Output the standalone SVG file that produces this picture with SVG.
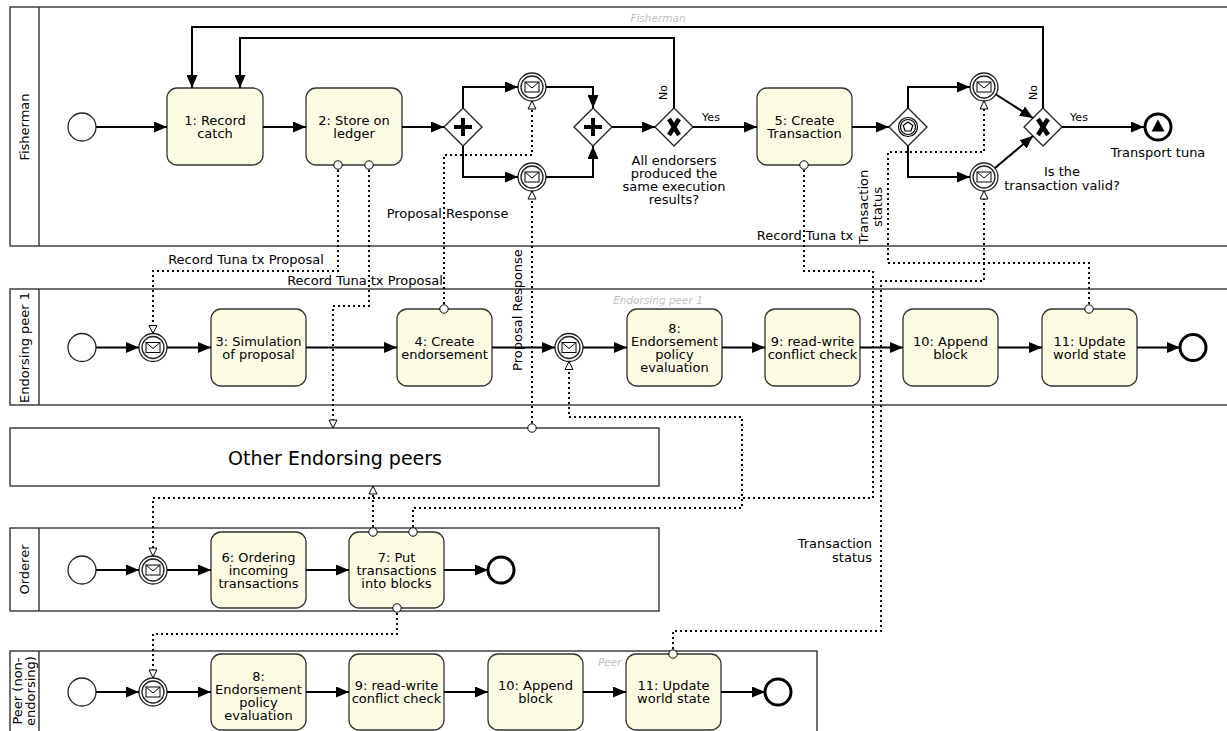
<svg xmlns="http://www.w3.org/2000/svg" width="1227" height="731" viewBox="0 0 1227 731">
  <defs>
    <style>
      .pool{fill:#fff;stroke:#333;stroke-width:1.4}
      .hdr{fill:none;stroke:#333;stroke-width:1.4}
      text{font-family:"DejaVu Sans",Verdana,sans-serif;font-size:13px;fill:#000}
      .c{text-anchor:middle}
      .e{text-anchor:end}
      .small{font-size:11px}
      .lane{font-size:10.5px;font-style:italic;fill:#c0c0c0;text-anchor:middle}
      .task{fill:#fcfce4;stroke:#333;stroke-width:1.3}
      .ev{fill:#fff;stroke:#222;stroke-width:1.3}
      .end{fill:#fff;stroke:#000;stroke-width:3}
      .flow{fill:none;stroke:#000;stroke-width:2;marker-end:url(#arr)}
      .msg{fill:none;stroke:#000;stroke-width:2;stroke-dasharray:2 3;marker-start:url(#dot);marker-end:url(#tri)}
    </style>
    <marker id="arr" markerUnits="userSpaceOnUse" markerWidth="14" markerHeight="11" refX="13" refY="5.5" orient="auto">
      <path d="M0,0 L13,5.5 L0,11 Z" fill="#000"/>
    </marker>
    <marker id="tri" markerUnits="userSpaceOnUse" markerWidth="12" markerHeight="12" refX="9" refY="5" orient="auto" overflow="visible">
      <path d="M1,1 L9,5 L1,9 Z" fill="#fff" stroke="#000" stroke-width="1"/>
    </marker>
    <marker id="dot" markerUnits="userSpaceOnUse" markerWidth="12" markerHeight="12" refX="6" refY="6" orient="auto" overflow="visible">
      <circle cx="6" cy="6" r="4.2" fill="#fff" stroke="#000" stroke-width="1"/>
    </marker>
    <!-- intermediate message catch event -->
    <g id="mev">
      <circle r="14" fill="#fff" stroke="#222" stroke-width="1.3"/>
      <circle r="11" fill="none" stroke="#222" stroke-width="1.3"/>
      <rect x="-7" y="-5" width="14" height="10" fill="#fff" stroke="#000" stroke-width="1"/>
      <path d="M-7,-5 L0,1 L7,-5" fill="none" stroke="#000" stroke-width="1"/>
    </g>
    <path id="dia" d="M-19,0 L0,-19 L19,0 L0,19 Z" fill="#fff" stroke="#222" stroke-width="1.3"/>
    <!-- parallel gateway -->
    <g id="gwP">
      <use href="#dia"/>
      <path d="M0,-9 V9 M-9,0 H9" stroke="#000" stroke-width="4"/>
    </g>
    <!-- exclusive gateway -->
    <g id="gwX">
      <use href="#dia"/>
      <path d="M-5,-8 L5,8 M5,-8 L-5,8" stroke="#000" stroke-width="4.5"/>
    </g>
    <!-- event-based gateway -->
    <g id="gwE">
      <use href="#dia"/>
      <circle r="9.5" fill="none" stroke="#000" stroke-width="1.2"/>
      <circle r="7.5" fill="none" stroke="#000" stroke-width="1.2"/>
      <path d="M0,-5 L4.8,-1.5 L2.9,4 L-2.9,4 L-4.8,-1.5 Z" fill="none" stroke="#000" stroke-width="1.2"/>
    </g>
  </defs>

  <!-- pools -->
  <g id="pool-fisherman">
    <rect class="pool" x="10" y="7" width="1300" height="239"/>
    <line class="hdr" x1="39" y1="7" x2="39" y2="246"/>
    <text x="29" y="127" class="c" transform="rotate(-90 29 127)">Fisherman</text>
    <text x="658" y="21.5" class="lane">Fisherman</text>
  </g>
  <g id="pool-endorsing-peer-1">
    <rect class="pool" x="10" y="289" width="1300" height="116"/>
    <line class="hdr" x1="39" y1="289" x2="39" y2="405"/>
    <text x="29" y="347.5" class="c" transform="rotate(-90 29 347.5)">Endorsing peer 1</text>
    <text x="658" y="303.5" class="lane">Endorsing peer 1</text>
  </g>
  <g id="pool-other-endorsing-peers">
    <rect class="pool" x="10" y="428" width="649" height="58"/>
    <text x="335" y="465" class="c" style="font-size:19px">Other Endorsing peers</text>
  </g>
  <g id="pool-orderer">
    <rect class="pool" x="10" y="528" width="649" height="83"/>
    <line class="hdr" x1="39" y1="528" x2="39" y2="611"/>
    <text x="29" y="569.5" class="c" transform="rotate(-90 29 569.5)">Orderer</text>
  </g>
  <g id="pool-peer">
    <rect class="pool" x="10" y="651" width="807" height="100"/>
    <line class="hdr" x1="39" y1="651" x2="39" y2="751"/>
    <text x="22" y="691" class="c" transform="rotate(-90 22 691)">Peer (non-</text>
    <text x="35" y="691" class="c" transform="rotate(-90 35 691)">endorsing)</text>
    <text x="598" y="665.5" class="lane" style="text-anchor:start">Peer</text>
  </g>

  <!-- Fisherman nodes -->
  <g id="f-start"><circle class="ev" cx="82" cy="127" r="14"/></g>
  <g id="f-task1"><rect class="task" x="167" y="88" width="96" height="77" rx="10"/>
    <text x="215" y="124.5" class="c">1: Record</text><text x="215" y="137.5" class="c">catch</text></g>
  <g id="f-task2"><rect class="task" x="306" y="88" width="96" height="77" rx="10"/>
    <text x="354" y="124.5" class="c">2: Store on</text><text x="354" y="137.5" class="c">ledger</text></g>
  <g id="f-fork"><use href="#gwP" x="463" y="127"/></g>
  <g id="f-msg-a"><use href="#mev" x="532" y="87"/></g>
  <g id="f-msg-b"><use href="#mev" x="532" y="177"/></g>
  <g id="f-join"><use href="#gwP" x="593" y="127"/></g>
  <g id="f-check-results"><use href="#gwX" x="674" y="127"/>
    <text x="674" y="164.5" class="c">All endorsers</text>
    <text x="674" y="177.5" class="c">produced the</text>
    <text x="674" y="191" class="c">same execution</text>
    <text x="674" y="204" class="c">results?</text></g>
  <g id="f-task5"><rect class="task" x="757" y="88" width="95" height="77" rx="10"/>
    <text x="804.5" y="124.5" class="c">5: Create</text><text x="804.5" y="137.5" class="c">Transaction</text></g>
  <g id="f-event-gw"><use href="#gwE" x="908" y="127"/></g>
  <g id="f-msg-c"><use href="#mev" x="984" y="87"/></g>
  <g id="f-msg-d"><use href="#mev" x="984" y="177"/></g>
  <g id="f-check-valid"><use href="#gwX" x="1043" y="127"/>
    <text x="1062" y="176" class="c">Is the</text>
    <text x="1062" y="189.5" class="c">transaction valid?</text></g>
  <g id="f-end"><circle class="end" cx="1158" cy="127" r="13"/>
    <path d="M1158,119.5 L1164.5,131.5 L1151.5,131.5 Z" fill="#000"/>
    <text x="1158" y="156.5" class="c">Transport tuna</text></g>

  <!-- Endorsing peer 1 nodes -->
  <g id="e-start"><circle class="ev" cx="82" cy="347.5" r="14"/></g>
  <g id="e-msg-in"><use href="#mev" x="153" y="347.5"/></g>
  <g id="e-task3"><rect class="task" x="211" y="309" width="95" height="77" rx="10"/>
    <text x="258.5" y="345.5" class="c">3: Simulation</text><text x="258.5" y="358.5" class="c">of proposal</text></g>
  <g id="e-task4"><rect class="task" x="397" y="309" width="95" height="77" rx="10"/>
    <text x="444.5" y="345.5" class="c">4: Create</text><text x="444.5" y="358.5" class="c">endorsement</text></g>
  <g id="e-msg-block"><use href="#mev" x="569" y="347.5"/></g>
  <g id="e-task8"><rect class="task" x="627" y="309" width="95" height="77" rx="10"/>
    <text x="674.5" y="332.5" class="c">8:</text><text x="674.5" y="345.5" class="c">Endorsement</text>
    <text x="674.5" y="358.5" class="c">policy</text><text x="674.5" y="371.5" class="c">evaluation</text></g>
  <g id="e-task9"><rect class="task" x="765" y="309" width="95" height="77" rx="10"/>
    <text x="812.5" y="345.5" class="c">9: read-write</text><text x="812.5" y="358.5" class="c">conflict check</text></g>
  <g id="e-task10"><rect class="task" x="903" y="309" width="95" height="77" rx="10"/>
    <text x="950.5" y="345.5" class="c">10: Append</text><text x="950.5" y="358.5" class="c">block</text></g>
  <g id="e-task11"><rect class="task" x="1042" y="309" width="95" height="77" rx="10"/>
    <text x="1089.5" y="345.5" class="c">11: Update</text><text x="1089.5" y="358.5" class="c">world state</text></g>
  <g id="e-end"><circle class="end" cx="1193" cy="347.5" r="13"/></g>

  <!-- Orderer nodes -->
  <g id="o-start"><circle class="ev" cx="82" cy="570" r="14"/></g>
  <g id="o-msg-in"><use href="#mev" x="153" y="570"/></g>
  <g id="o-task6"><rect class="task" x="211" y="532" width="95" height="76" rx="10"/>
    <text x="258.5" y="561.5" class="c">6: Ordering</text><text x="258.5" y="574.5" class="c">incoming</text>
    <text x="258.5" y="587.5" class="c">transactions</text></g>
  <g id="o-task7"><rect class="task" x="349" y="532" width="95" height="76" rx="10"/>
    <text x="396.5" y="561.5" class="c">7: Put</text><text x="396.5" y="574.5" class="c">transactions</text>
    <text x="396.5" y="587.5" class="c">into blocks</text></g>
  <g id="o-end"><circle class="end" cx="501" cy="570" r="13"/></g>

  <!-- Peer (non-endorsing) nodes -->
  <g id="p-start"><circle class="ev" cx="82" cy="692" r="14"/></g>
  <g id="p-msg-in"><use href="#mev" x="153" y="692"/></g>
  <g id="p-task8"><rect class="task" x="211" y="654" width="95" height="76" rx="10"/>
    <text x="258.5" y="681" class="c">8:</text><text x="258.5" y="694" class="c">Endorsement</text>
    <text x="258.5" y="707" class="c">policy</text><text x="258.5" y="720" class="c">evaluation</text></g>
  <g id="p-task9"><rect class="task" x="349" y="654" width="95" height="76" rx="10"/>
    <text x="396.5" y="690" class="c">9: read-write</text><text x="396.5" y="703" class="c">conflict check</text></g>
  <g id="p-task10"><rect class="task" x="488" y="654" width="95" height="76" rx="10"/>
    <text x="535.5" y="690" class="c">10: Append</text><text x="535.5" y="703" class="c">block</text></g>
  <g id="p-task11"><rect class="task" x="626" y="654" width="95" height="76" rx="10"/>
    <text x="673.5" y="690" class="c">11: Update</text><text x="673.5" y="703" class="c">world state</text></g>
  <g id="p-end"><circle class="end" cx="778" cy="692" r="13"/></g>

  <!-- connectors -->
  <g id="connectors">
    <!-- sequence flows: Fisherman -->
    <path class="flow" d="M96,127 H167"/>
    <path class="flow" d="M263,127 H306"/>
    <path class="flow" d="M402,127 H444"/>
    <path class="flow" d="M463,108 V87 H518"/>
    <path class="flow" d="M463,146 V177 H518"/>
    <path class="flow" d="M546,87 H593 V108"/>
    <path class="flow" d="M546,177 H593 V146"/>
    <path class="flow" d="M612,127 H655"/>
    <path class="flow" d="M693,127 H757"/>
    <path class="flow" d="M674,108 V38 H240 V88"/>
    <path class="flow" d="M852,127 H889"/>
    <path class="flow" d="M908,108 V87 H970"/>
    <path class="flow" d="M908,146 V177 H970"/>
    <path class="flow" d="M996,94.5 L1033,118"/>
    <path class="flow" d="M995,168 L1033,136"/>
    <path class="flow" d="M1062,127 H1144"/>
    <path class="flow" d="M1043,108 V27 H192 V88"/>
    <text x="667" y="92.5" class="c small" transform="rotate(-90 667 92.5)">No</text>
    <text x="711" y="120.5" class="c small">Yes</text>
    <text x="1037" y="92.5" class="c small" transform="rotate(-90 1037 92.5)">No</text>
    <text x="1079" y="120.5" class="c small">Yes</text>

    <!-- sequence flows: Endorsing peer 1 -->
    <path class="flow" d="M96,347.5 H139"/>
    <path class="flow" d="M167,347.5 H211"/>
    <path class="flow" d="M306,347.5 H397"/>
    <path class="flow" d="M492,347.5 H555"/>
    <path class="flow" d="M583,347.5 H627"/>
    <path class="flow" d="M722,347.5 H765"/>
    <path class="flow" d="M860,347.5 H903"/>
    <path class="flow" d="M998,347.5 H1042"/>
    <path class="flow" d="M1137,347.5 H1180"/>

    <!-- sequence flows: Orderer -->
    <path class="flow" d="M96,570 H139"/>
    <path class="flow" d="M167,570 H211"/>
    <path class="flow" d="M306,570 H349"/>
    <path class="flow" d="M444,570 H488"/>

    <!-- sequence flows: Peer -->
    <path class="flow" d="M96,692 H139"/>
    <path class="flow" d="M167,692 H211"/>
    <path class="flow" d="M306,692 H349"/>
    <path class="flow" d="M444,692 H488"/>
    <path class="flow" d="M583,692 H626"/>
    <path class="flow" d="M721,692 H765"/>

    <!-- message flows -->
    <path class="msg" d="M338,165 V271 H153 V333.5"/>
    <path class="msg" d="M369,165 V306 H333 V428"/>
    <path class="msg" d="M444,309 V155 H532 V101"/>
    <path class="msg" d="M532,428 V191"/>
    <path class="msg" d="M804,165 V271 H873 V498 H153 V556"/>
    <path class="msg" d="M1089,309 V263 H888 V152 H984 V101"/>
    <path class="msg" d="M673,654 V631 H881 V281 H984 V191"/>
    <path class="msg" d="M373,532 V486"/>
    <path class="msg" d="M413,532 V508 H742 V417 H569 V361.5"/>
    <path class="msg" d="M397,608 V634 H153 V678"/>

    <text x="246" y="264" class="c">Record Tuna tx Proposal</text>
    <text x="365" y="284.5" class="c">Record Tuna tx Proposal</text>
    <text x="447.5" y="217.5" class="c">Proposal Response</text>
    <text x="522" y="310" class="c" transform="rotate(-90 522 310)">Proposal Response</text>
    <text x="805" y="239.5" class="c">Record Tuna tx</text>
    <text x="868" y="207" class="c" transform="rotate(-90 868 207)">Transaction</text>
    <text x="882" y="207" class="c" transform="rotate(-90 882 207)">status</text>
    <text x="872" y="548" class="e">Transaction</text>
    <text x="872" y="561.5" class="e">status</text>
  </g>
</svg>
